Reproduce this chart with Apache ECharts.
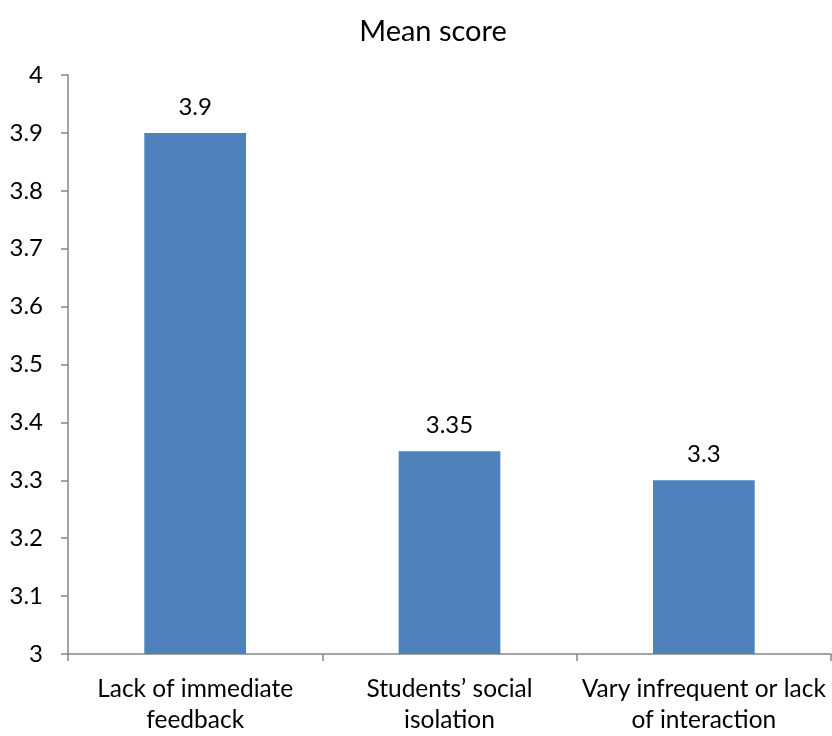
<!DOCTYPE html>
<html>
<head>
<meta charset="utf-8">
<script src="https://cdn.jsdelivr.net/npm/echarts@6/dist/echarts.min.js"></script>
<style>
  html, body { margin: 0; padding: 0; background: #fff; }
  #chart { width: 832px; height: 736px; }
</style>
</head>
<body>
<div id="chart"></div>
<script>
// Barriers and their mean scores
const categories = [
  'Lack of immediate\nfeedback',
  'Students\u2019 social\nisolation',
  'Vary infrequent or lack\nof interaction'
];
const meanScores = [3.9, 3.35, 3.3];
const yTicks = { min: 3, max: 4, step: 0.1 };

const FONT = 'Lato, "Open Sans", sans-serif';
const chart = echarts.init(document.getElementById('chart'), null, { renderer: 'canvas' });

chart.setOption({
  animation: false,
  backgroundColor: '#ffffff',
  title: {
    text: 'Mean score',
    left: 428,
    top: 12,
    textAlign: 'center',
    textStyle: { fontFamily: FONT, fontSize: 29, fontWeight: 'normal', color: '#000' }
  },
  grid: { left: 68, right: 1, top: 75, bottom: 82, containLabel: false },
  xAxis: {
    type: 'category',
    data: categories,
    axisLine: { lineStyle: { color: '#868686', width: 1.5 } },
    axisTick: { show: true, length: 7, alignWithLabel: false, lineStyle: { color: '#868686', width: 1.5 } },
    axisLabel: {
      fontFamily: FONT, fontSize: 24.5, color: '#000', margin: 20, lineHeight: 31, interval: 0
    },
    splitLine: { show: false }
  },
  yAxis: {
    type: 'value',
    min: yTicks.min,
    max: yTicks.max,
    interval: yTicks.step,
    axisLine: { show: true, lineStyle: { color: '#868686', width: 1.5 } },
    axisTick: { show: true, length: 7, lineStyle: { color: '#868686', width: 1.5 } },
    axisLabel: {
      fontFamily: FONT, fontSize: 24, color: '#000', margin: 25,
      formatter: v => String(Math.round(v * 100) / 100)
    },
    splitLine: { show: false }
  },
  series: [{
    type: 'bar',
    data: meanScores,
    barWidth: '40%',
    itemStyle: { color: '#4F81BD' },
    label: {
      show: true,
      position: 'top',
      distance: 14,
      fontFamily: FONT,
      fontSize: 24,
      color: '#000',
      formatter: p => String(p.value)
    }
  }]
});
</script>
</body>
</html>
